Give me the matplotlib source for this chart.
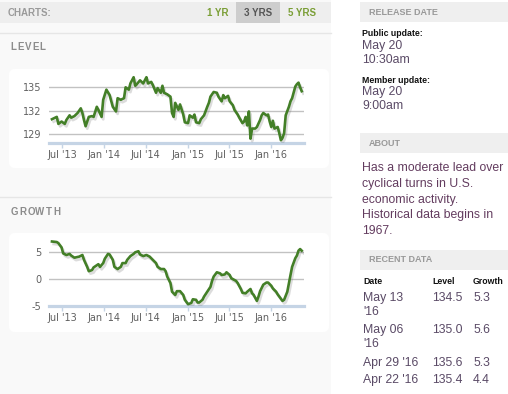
import matplotlib
matplotlib.use("Agg")
import matplotlib.pyplot as plt
import matplotlib.patheffects as pe
from matplotlib.patches import Rectangle, FancyBboxPatch
import pandas as pd

# weekly index readings
level_dates = [
    "2013-05-17", "2013-06-07", "2013-06-14", "2013-06-28", "2013-07-12", "2013-07-19",
    "2013-08-02", "2013-08-09", "2013-08-23", "2013-09-06", "2013-09-20", "2013-09-27",
    "2013-10-04", "2013-10-11", "2013-10-25", "2013-11-08", "2013-11-15", "2013-11-29",
    "2013-12-06", "2013-12-20", "2013-12-27", "2014-01-10", "2014-01-24", "2014-02-07",
    "2014-02-21", "2014-02-28", "2014-03-14", "2014-03-28", "2014-04-04", "2014-04-18",
    "2014-04-25", "2014-05-09", "2014-05-16", "2014-05-23", "2014-06-06", "2014-06-20",
    "2014-06-27", "2014-07-04", "2014-07-11", "2014-07-25", "2014-08-01", "2014-08-15",
    "2014-08-22", "2014-09-05", "2014-09-12", "2014-09-19", "2014-10-03", "2014-10-17",
    "2014-10-24", "2014-10-31", "2014-11-07", "2014-11-21", "2014-11-28", "2014-12-12",
    "2014-12-19", "2015-01-02", "2015-01-09", "2015-01-23", "2015-01-30", "2015-02-06",
    "2015-02-20", "2015-02-27", "2015-03-13", "2015-03-27", "2015-04-03", "2015-04-10",
    "2015-04-24", "2015-05-08", "2015-05-15", "2015-05-29", "2015-06-05", "2015-06-12",
    "2015-06-26", "2015-07-03", "2015-07-17", "2015-07-24", "2015-08-07", "2015-08-14",
    "2015-08-28", "2015-09-04", "2015-09-11", "2015-09-18", "2015-09-25", "2015-10-02",
    "2015-10-09", "2015-10-23", "2015-10-30", "2015-11-13", "2015-11-20", "2015-11-27",
    "2015-12-11", "2015-12-18", "2015-12-25", "2016-01-01", "2016-01-08", "2016-01-15",
    "2016-01-29", "2016-02-05", "2016-02-12", "2016-02-19", "2016-02-26", "2016-03-04",
    "2016-03-18", "2016-03-25", "2016-04-01", "2016-04-15", "2016-04-22", "2016-04-29",
    "2016-05-06", "2016-05-13",
]
level_values = [
    130.9, 131.2, 130.3, 130.6, 130.3, 130.8,
    131.4, 131.1, 131.3, 131.7, 132.3, 131.7,
    130.8, 130.0, 131.2, 131.3, 131.2, 132.5,
    132.1, 131.2, 133.4, 134.7, 134.0, 132.5,
    131.9, 133.6, 133.4, 133.6, 135.0, 134.7,
    135.5, 136.3, 135.2, 135.4, 135.9, 135.5,
    135.9, 136.3, 135.5, 135.7, 135.3, 134.3,
    134.9, 134.3, 135.2, 134.3, 134.1, 133.8,
    131.7, 131.2, 133.0, 132.1, 132.8, 131.5,
    130.5, 130.4, 131.4, 131.1, 131.5, 130.5,
    130.4, 130.9, 131.4, 132.5, 133.0, 133.8,
    134.4, 134.3, 133.8, 133.2, 134.0, 133.6,
    133.9, 133.2, 132.7, 132.1, 131.5, 131.1,
    130.4, 130.6, 131.2, 130.1, 131.9, 128.4,
    129.7, 129.7, 129.9, 130.8, 131.4, 131.7,
    131.4, 131.5, 130.6, 129.9, 130.7, 129.7,
    129.9, 129.1, 128.2, 128.5, 129.1, 131.4,
    132.5, 133.2, 133.6, 135.1, 135.4, 135.6,
    135.0, 134.5,
]

growth_dates = [
    "2013-05-17", "2013-06-07", "2013-06-14", "2013-06-28", "2013-07-05", "2013-07-19",
    "2013-08-02", "2013-08-09", "2013-08-23", "2013-09-13", "2013-09-27", "2013-10-04",
    "2013-10-18", "2013-10-25", "2013-11-08", "2013-11-15", "2013-12-06", "2013-12-13",
    "2013-12-27", "2014-01-03", "2014-01-17", "2014-01-24", "2014-02-07", "2014-02-14",
    "2014-02-28", "2014-03-14", "2014-03-21", "2014-04-04", "2014-04-11", "2014-04-25",
    "2014-05-09", "2014-05-16", "2014-05-30", "2014-06-06", "2014-06-20", "2014-07-04",
    "2014-07-18", "2014-08-01", "2014-08-15", "2014-08-22", "2014-09-05", "2014-09-19",
    "2014-09-26", "2014-10-03", "2014-10-17", "2014-10-24", "2014-11-07", "2014-11-14",
    "2014-11-28", "2014-12-12", "2014-12-19", "2015-01-02", "2015-01-16", "2015-01-23",
    "2015-02-06", "2015-02-13", "2015-02-20", "2015-03-06", "2015-03-13", "2015-03-27",
    "2015-04-10", "2015-04-17", "2015-04-24", "2015-05-08", "2015-05-22", "2015-05-29",
    "2015-06-12", "2015-06-19", "2015-07-03", "2015-07-10", "2015-07-31", "2015-08-07",
    "2015-08-21", "2015-08-28", "2015-09-11", "2015-09-18", "2015-10-02", "2015-10-09",
    "2015-10-16", "2015-10-30", "2015-11-06", "2015-11-13", "2015-11-27", "2015-12-11",
    "2015-12-18", "2016-01-01", "2016-01-08", "2016-01-22", "2016-01-29", "2016-02-12",
    "2016-02-19", "2016-02-26", "2016-03-11", "2016-03-25", "2016-04-01", "2016-04-15",
    "2016-04-22", "2016-04-29", "2016-05-06", "2016-05-13",
]
growth_values = [
    7.0, 6.9, 6.7, 5.9, 4.8, 4.5,
    4.7, 4.4, 4.0, 4.2, 4.5, 3.6,
    2.3, 1.5, 1.7, 2.2, 2.8, 2.3,
    3.0, 3.8, 4.7, 4.6, 3.6, 2.3,
    1.9, 2.3, 3.0, 3.0, 3.6, 4.3,
    4.7, 5.0, 5.2, 4.6, 4.3, 4.5,
    4.2, 3.6, 3.0, 2.3, 1.9, 1.9,
    1.5, 0.5, -0.7, -2.3, -2.9, -2.2,
    -2.2, -2.9, -3.8, -4.6, -4.4, -3.7,
    -3.8, -4.3, -4.3, -3.8, -3.2, -2.3,
    -1.4, -0.3, 0.5, 1.3, 1.1, 0.8,
    0.9, 1.3, 0.8, 0.2, -0.3, -0.7,
    -1.8, -2.5, -2.6, -2.3, -1.8, -2.6,
    -2.9, -4.0, -3.2, -2.2, -1.0, -0.6,
    -0.6, -1.2, -1.7, -2.3, -2.8, -3.6,
    -4.0, -3.8, -2.3, 0.8, 2.3, 3.9,
    4.4, 5.3, 5.6, 5.3,
]

tick_dates = ["2013-07-01", "2014-01-01", "2014-07-01", "2015-01-01", "2015-07-01", "2016-01-01"]
tick_labels = ["Jul '13", "Jan '14", "Jul '14", "Jan '15", "Jul '15", "Jan '16"]
level_ticks = [129, 132, 135]
growth_ticks = [-5, 0, 5]

recent_dates = ["May 13\n'16", "May 06\n'16", "Apr 29 '16", "Apr 22 '16"]
recent_level = ["134.5", "135.0", "135.6", "135.4"]
recent_growth = ["5.3", "5.6", "5.3", "4.4"]

about_text = ["Has a moderate lead over", "cyclical turns in U.S.",
              "economic activity.", "Historical data begins in", "1967."]

W, H = 508, 394
GREEN = "#437f27"
SANS = "Liberation Sans"

fig = plt.figure(figsize=(W / 100, H / 100), dpi=100)
fig.patch.set_facecolor("white")

# page background drawn in pixel coordinates
bg = fig.add_axes([0, 0, 1, 1])
bg.set_xlim(0, W)
bg.set_ylim(H, 0)
bg.axis("off")

bg.add_patch(Rectangle((0, 0), 331, H, color="#f9f9f9", lw=0))
bg.add_patch(Rectangle((0, 2), 331, 21, color="#eeeeee", lw=0))
bg.add_patch(Rectangle((236, 2), 44, 21, color="#cdcdcd", lw=0))
for y in [33, 197]:
    bg.plot([0, 331], [y, y], color="#e6e6e6", lw=1)
for y0 in [69, 233]:
    bg.add_patch(FancyBboxPatch((9, y0), 320, 99, boxstyle="round,pad=0,rounding_size=6",
                                fc="white", ec="none"))

bg.text(8, 12.5, "CHARTS:", fontsize=7, fontweight="bold", color="#9a9a9a",
        family=SANS, va="center")
bg.text(218, 12.5, "1 YR", fontsize=7, fontweight="bold", color="#7a9e35",
        family=SANS, va="center", ha="center")
bg.text(258, 12.5, "3 YRS", fontsize=7, fontweight="bold", color="#555555",
        family=SANS, va="center", ha="center")
bg.text(302, 12.5, "5 YRS", fontsize=7, fontweight="bold", color="#7a9e35",
        family=SANS, va="center", ha="center")

# spaced section titles
for i, ch in enumerate("LEVEL"):
    bg.text(13.5 + i * 7.3, 47, ch, fontsize=7, fontweight="bold", color="#8c8c8c",
            family=SANS, va="center", ha="center")
for i, ch in enumerate("GROWTH"):
    bg.text(14 + i * 8.6, 211.5, ch, fontsize=7, fontweight="bold", color="#8c8c8c",
            family=SANS, va="center", ha="center")

# right column
for y0, title in [(2, "RELEASE DATE"), (133, "ABOUT"), (250, "RECENT DATA")]:
    bg.add_patch(Rectangle((360, y0), 148, 20, color="#efefef", lw=0))
    bg.text(369, y0 + 10, title, fontsize=6.5, fontweight="bold", color="#999999",
            family=SANS, va="center")

VAL = "#5a4a66"
bg.text(362, 33, "Public update:", fontsize=6.3, fontweight="bold", color="#111111",
        family=SANS, va="center")
bg.text(362, 46, "May 20", fontsize=8.8, color=VAL, family=SANS, va="center")
bg.text(362, 60, "10:30am", fontsize=8.8, color=VAL, family=SANS, va="center")
bg.text(362, 80, "Member update:", fontsize=6.3, fontweight="bold", color="#111111",
        family=SANS, va="center")
bg.text(362, 92, "May 20", fontsize=8.8, color=VAL, family=SANS, va="center")
bg.text(362, 106, "9:00am", fontsize=8.8, color=VAL, family=SANS, va="center")

for i, line in enumerate(about_text):
    bg.text(362, 168 + i * 15.8, line, fontsize=8.8, color="#633c5f", family=SANS, va="center")

bg.text(363, 282, "Date", fontsize=6.3, fontweight="bold", color="#111111", family=SANS, va="center")
bg.text(432, 282, "Level", fontsize=6.3, fontweight="bold", color="#111111", family=SANS, va="center")
bg.text(473, 282, "Growth", fontsize=6.3, fontweight="bold", color="#111111", family=SANS, va="center")
row_y = [298, 330, 363, 380]
for y, d, lv, gr in zip(row_y, recent_dates, recent_level, recent_growth):
    parts = d.split("\n")
    for j, p in enumerate(parts):
        bg.text(363, y + j * 14, p, fontsize=8.8, color=VAL, family=SANS, va="center")
    bg.text(432, y, lv, fontsize=8.8, color=VAL, family=SANS, va="center")
    bg.text(473, y, gr, fontsize=8.8, color=VAL, family=SANS, va="center")


def px_axes(x0, y0, x1, y1):
    return fig.add_axes([x0 / W, 1 - y1 / H, (x1 - x0) / W, (y1 - y0) / H])


def style_chart(ax, dates, values, yticks, ylim):
    ax.set_facecolor("none")
    ax.plot(pd.to_datetime(dates), values, color=GREEN, lw=1.9, solid_joinstyle="round",
            path_effects=[pe.SimpleLineShadow(offset=(1.2, -1.8), shadow_color="#777777", alpha=0.25),
                          pe.Normal()], zorder=3)
    ax.set_xlim(pd.Timestamp("2013-05-04"), pd.Timestamp("2016-05-23"))
    ax.set_ylim(*ylim)
    ax.set_yticks(yticks)
    ax.set_yticklabels([str(t) for t in yticks])
    ax.set_xticks(pd.to_datetime(tick_dates))
    ax.set_xticklabels(tick_labels)
    ax.grid(axis="y", color="#c2c2c2", lw=1, zorder=1)
    ax.set_axisbelow(True)
    for side in ["top", "right", "left"]:
        ax.spines[side].set_visible(False)
    ax.spines["bottom"].set_color("#c5d4e5")
    ax.spines["bottom"].set_linewidth(2.3)
    ax.tick_params(axis="y", length=0, pad=5.5, labelsize=7, labelcolor="#606060")
    ax.tick_params(axis="x", length=3.5, width=1, color="#c5d4e5", pad=1.2,
                   labelsize=7, labelcolor="#606060")


ax1 = px_axes(49, 72, 304, 143.5)
style_chart(ax1, level_dates, level_values, level_ticks, (127.78, 136.97))

ax2 = px_axes(49, 236, 304, 306.3)
style_chart(ax2, growth_dates, growth_values, growth_ticks, (-5, 8.02))

fig.savefig("out.png", dpi=100, facecolor="white")
